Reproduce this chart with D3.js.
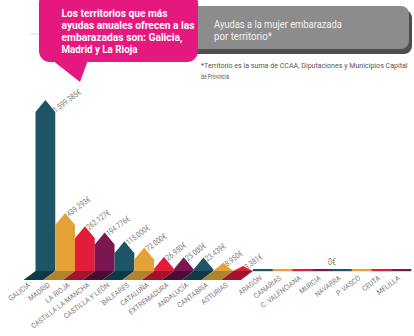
<!DOCTYPE html>
<html><head><meta charset="utf-8">
<script src="https://cdn.jsdelivr.net/npm/d3@7/dist/d3.min.js"></script>
<style>
html,body{margin:0;padding:0;background:#fff;}
svg{display:block;}
.cond{font-family:"Roboto","Liberation Sans",sans-serif;}
</style></head>
<body><svg id="chart" width="414" height="336"></svg>
<script>
const categories = ["GALICIA","MADRID","LA RIOJA","CASTILLA LA MANCHA","CASTILLA Y LEÓN","BALEARES","CATALUÑA","EXTREMADURA","ANDALUCÍA","CANTABRIA","ASTURIAS","ARAGÓN","CANARIAS","C. VALENCIANA","MURCIA","NAVARRA","P. VASCO","CEUTA","MELILLA"];
const values = [1599385,439293,262127,194776,115000,72000,26950,25000,23439,8950,3381,0,0,0,0,0,0,0,0];
const calloutLines = ["Los territorios que más","ayudas anuales ofrecen a las","embarazadas son: Galicia,","Madrid y La Rioja"];
const titleLines = ["Ayudas a la mujer embarazada","por territorio*"];
const noteLines = ["*Territorio es la suma de CCAA, Diputaciones y Municipios Capital","de Provincia"];
const zeroLabel = "0€";

const palette = ["#1d5466","#e3a136","#e31c3a","#7a1750"];
const shadowPalette = ["#0e3a47","#b0842c","#a3142c","#4c0c33"];

const svg = d3.select("#chart");
const baseY = 271;

// place texts with a horizontal squeeze (narrow-font look); pos(d,i) -> [x, y, angle]
function placeSqueezed(sel, pos, sx){
  sel.attr("transform", (d,i)=>{const p=pos(d,i); return `translate(${p[0]},${p[1]}) rotate(${p[2]||0}) scale(${sx(d,i,this)},1)`;});
}

const x = d3.scaleBand().domain(categories).range([35.5, 411]).padding(0);
// sqrt scale, with Galicia's arrow exaggerated as in the original infographic
const y = d3.scalePow().exponent(0.5).domain([0, 439293, 1599385]).range([baseY, 213, 100]);

const loc = d3.formatLocale({decimal:",", thousands:".", grouping:[3], currency:["","€"]});
const fmt = loc.format("$,");

const data = categories.map((c,i)=>({c, v: values[i], i}));
const bars = data.filter(d=>d.v>0);
const zeros = data.filter(d=>d.v===0);
const firstZero = zeros.length ? zeros[0].i : 0;

const skew = 12, shH = 9;
svg.append("g").selectAll("path").data(bars).join("path")
  .attr("d", d=>{const x0=x(d.c), x1=x0+x.bandwidth();
    return `M${x0},${baseY}L${x1},${baseY}L${x1-skew},${baseY+shH}L${x0-skew},${baseY+shH}Z`;})
  .attr("fill", d=>shadowPalette[d.i%4]);

svg.append("g").selectAll("rect").data(zeros).join("rect")
  .attr("x", d=>x(d.c)).attr("width", x.bandwidth()+0.3)
  .attr("y", baseY-2).attr("height", 2.2)
  .attr("fill", d=>palette[(d.i-firstZero)%4]);

svg.append("g").selectAll("path").data(bars).join("path")
  .attr("d", d=>{const x0=x(d.c), x1=x0+x.bandwidth(), cx=(x0+x1)/2, yt=y(d.v);
    const tri=Math.min(12, baseY-yt);
    return `M${x0},${baseY}L${x0},${yt+tri}L${cx},${yt}L${x1},${yt+tri}L${x1},${baseY}Z`;})
  .attr("fill", d=>palette[d.i%4]);

// value labels
const vl = svg.append("g").selectAll("text").data(bars).join("text")
  .attr("class","cond").attr("font-size", 8).attr("fill","#7a7a7a")
  .text(d=>fmt(d.v));
placeSqueezed(vl, d=>[x(d.c)+x.bandwidth()/2+(d.i===0?10:4), y(d.v)+(d.i===0?13:4), -37], ()=>0.82);

const zl = svg.append("text").attr("class","cond")
  .attr("text-anchor","middle")
  .attr("font-size", 8.5).attr("fill","#7a7a7a").text(zeroLabel);
placeSqueezed(zl, ()=>[(x(zeros[0].c)+x(zeros[zeros.length-1].c)+x.bandwidth())/2, 265, 0], ()=>0.85);

// category labels
const cl = svg.append("g").selectAll("text").data(data).join("text")
  .attr("class","cond").attr("text-anchor","end")
  .attr("font-size", 7.2).attr("fill","#7a7a7a")
  .text(d=>d.c);
const refLen = cl.filter(d=>d.c==="CASTILLA LA MANCHA").node().getComputedTextLength();
placeSqueezed(cl, d=>{const cx=x(d.c)+x.bandwidth()/2;
    return d.v>0 ? [cx-14.5, 286, -37] : [cx-0.5, 279, -37];}, ()=>71/refLen);

// gray title box
svg.append("rect").attr("x",150).attr("y",10).attr("width",262).attr("height",44).attr("rx",8).attr("fill","#4e4e4e");
svg.append("rect").attr("x",150).attr("y",6).attr("width",259).attr("height",43).attr("rx",8).attr("fill","#8c8c8c");
const titleTargets = [128, 58];
const tl = svg.append("g").selectAll("text").data(titleLines).join("text")
  .attr("class","cond").attr("font-size",11).attr("fill","#f2f2f2").text(d=>d);
placeSqueezed(tl, (d,i)=>[214, 28+i*12.3, 0], function(d,i,node){ return 1; });
tl.attr("transform", function(d,i){ const n=this.getComputedTextLength(); return `translate(214,${28+i*12.3}) scale(${titleTargets[i]/n},1)`; });

const noteTargets = [207, 28];
const nl = svg.append("g").selectAll("text").data(noteLines).join("text")
  .attr("class","cond").attr("font-size",7.5).attr("fill","#555").text(d=>d);
nl.attr("transform", function(d,i){ const n=this.getComputedTextLength(); return `translate(201,${68+i*10.5}) scale(${noteTargets[i]/n},1)`; });

// pink callout
svg.append("line").attr("x1",30).attr("x2",40).attr("y1",34).attr("y2",34).attr("stroke","#d8d8d8").attr("stroke-width",1);
svg.append("rect").attr("x",39).attr("y",-8).attr("width",159).attr("height",70).attr("rx",11).attr("fill","#e5187f");
svg.append("path").attr("d","M52,60L88,60L80,82Z").attr("fill","#e5187f");
const calTargets = [106, 133, 121, 76];
const cal = svg.append("g").selectAll("text").data(calloutLines).join("text")
  .attr("class","cond").attr("font-size",10.4).attr("font-weight","bold").attr("fill","#fff").text(d=>d);
cal.attr("transform", function(d,i){ const n=this.getComputedTextLength(); return `translate(61.5,${16.5+i*12.3}) scale(${calTargets[i]/n},1)`; });
</script></body></html>
